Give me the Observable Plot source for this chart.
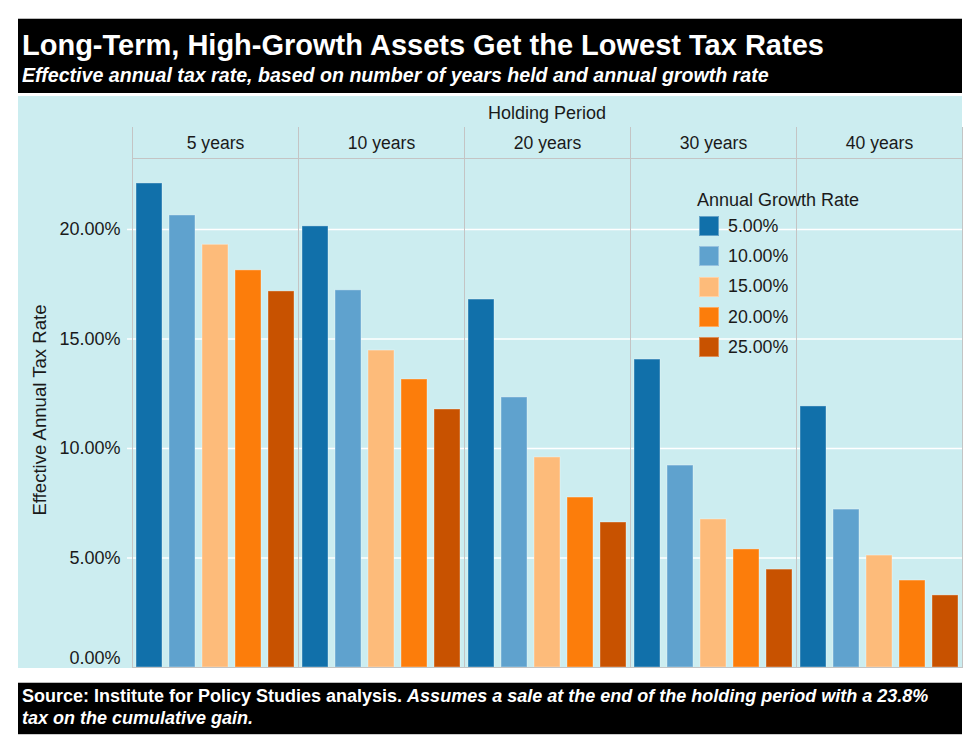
<!DOCTYPE html>
<html>
<head>
<meta charset="utf-8">
<script src="https://cdn.jsdelivr.net/npm/d3@7"></script>
<script src="https://cdn.jsdelivr.net/npm/@observablehq/plot@0.6"></script>
<style>
  html, body { margin: 0; padding: 0; background: #ffffff; }
  body { width: 980px; height: 753px; position: relative; overflow: hidden; font-family: "Liberation Sans", Arial, sans-serif; }
  #header { position: absolute; left: 18px; top: 18px; width: 944px; height: 75px; background: #000; border-top: 1px solid #bbb; box-sizing: border-box; }
  #title { position: absolute; left: 4px; top: 10px; font-size: 29px; line-height: 32px; font-weight: bold; color: #fff; white-space: nowrap; }
  #subtitle { position: absolute; left: 4px; top: 45px; font-size: 19.6px; line-height: 22px; font-weight: bold; font-style: italic; color: #fff; white-space: nowrap; }
  #panel { position: absolute; left: 18px; top: 96px; width: 944px; height: 572px; background: #ccedf0; }
  #chart { position: absolute; left: 0; top: 0; }
  #fxlabel { position: absolute; left: 114px; width: 830px; top: 6px; text-align: center; font-size: 18px; line-height: 22px; color: #1a1a1a; }
  #ylabel { position: absolute; left: 22px; top: 314px; width: 0; height: 0; }
  #ylabel span { position: absolute; transform: translate(-50%, -50%) rotate(-90deg); white-space: nowrap; font-size: 18.6px; color: #1a1a1a; }
  #legend { position: absolute; left: 679px; top: 93px; color: #1a1a1a; }
  #legend .ttl { font-size: 18px; line-height: 22px; margin-left: 0px; }
  #legend .row { display: flex; align-items: center; height: 30.3px; margin-left: 2px; }
  #legend .sw { width: 20px; height: 20px; box-sizing: border-box; border: 1px solid rgba(255,255,255,0.35); }
  #legend .lb { margin-left: 9px; font-size: 17.8px; }
  #footer { position: absolute; left: 18px; top: 682px; width: 944px; height: 53px; background: #000; border-top: 1px solid #bbb; border-bottom: 1px solid #ccc; box-sizing: border-box; color: #fff; font-weight: bold; font-size: 18px; line-height: 22px; padding: 2px 0 0 4px; white-space: nowrap; }
</style>
</head>
<body>
<div id="header">
  <div id="title">Long-Term, High-Growth Assets Get the Lowest Tax Rates</div>
  <div id="subtitle">Effective annual tax rate, based on number of years held and annual growth rate</div>
</div>
<div id="panel">
  <div id="chart"></div>
  <div id="fxlabel">Holding Period</div>
  <div id="ylabel"><span>Effective Annual Tax Rate</span></div>
  <div id="legend"></div>
</div>
<div id="footer">Source: Institute for Policy Studies analysis. <i>Assumes a sale at the end of the holding period with a 23.8%<br>tax on the cumulative gain.</i></div>
<script>
// ---- data ----
const periods = ["5 years", "10 years", "20 years", "30 years", "40 years"];
const rates = ["5.00%", "10.00%", "15.00%", "20.00%", "25.00%"];
const colors = ["#1170aa", "#5fa2ce", "#fdbb7a", "#fc7d0b", "#c85200"];
const growth5 = [0.2210, 0.2014, 0.1680, 0.1406, 0.1192];
const growth10 = [0.2064, 0.1722, 0.1233, 0.0922, 0.0721];
const growth15 = [0.1930, 0.1447, 0.0959, 0.0676, 0.0511];
const growth20 = [0.1813, 0.1315, 0.0776, 0.0539, 0.0397];
const growth25 = [0.1717, 0.1178, 0.0662, 0.0447, 0.0329];
const yTicks = [0.05, 0.10, 0.15, 0.20];
const yZeroTick = [0];
const legendTitle = "Annual Growth Rate";

const series = [growth5, growth10, growth15, growth20, growth25];
const data = [];
periods.forEach((p, i) => {
  rates.forEach((r, j) => {
    data.push({period: p, rate: r, value: series[j][i]});
  });
});

const fmt = d3.format(".2%");
const chart = Plot.plot({
  width: 944,
  height: 572,
  marginTop: 62,
  marginLeft: 114,
  marginRight: 0,
  marginBottom: 1,
  style: {background: "transparent", fontFamily: "Liberation Sans, Arial, sans-serif", color: "#1a1a1a", overflow: "visible"},
  fx: {domain: periods, padding: 0, axis: null},
  x: {domain: rates, paddingInner: 0.21, paddingOuter: 0.12, axis: null},
  y: {domain: [0, 0.2324], axis: null},
  color: {domain: rates, range: colors},
  marks: [
    Plot.gridY(yTicks, {stroke: "#ffffff", strokeOpacity: 1, strokeWidth: 1.5}),
    Plot.axisY(yTicks, {tickFormat: fmt, tickSize: 5, tickPadding: 7, stroke: "#ffffff", strokeWidth: 1.5, fontSize: 18, fill: "#1a1a1a", label: null}),
    Plot.axisY(yZeroTick, {tickFormat: fmt, tickSize: 0, tickPadding: 12, dy: -9, fontSize: 18, fill: "#1a1a1a", label: null}),
    Plot.barY(data, {fx: "period", x: "rate", y: "value", fill: "rate", stroke: "#ffffff", strokeOpacity: 0.35, strokeWidth: 1}),
    Plot.frame({anchor: "left", stroke: "#c4c4c4", insetTop: -31}),
    Plot.frame({anchor: "right", stroke: "#c4c4c4", insetTop: -31}),
    Plot.frame({anchor: "top", stroke: "#c4c4c4"}),
    Plot.frame({anchor: "bottom", stroke: "#c4c4c4"}),
    Plot.text(periods, {fx: d => d, text: d => d, frameAnchor: "top", dy: -15, fontSize: 17.6, fill: "#1a1a1a", lineAnchor: "middle"})
  ]
});
document.getElementById("chart").appendChild(chart);

const legend = document.getElementById("legend");
const t = document.createElement("div");
t.className = "ttl";
t.textContent = legendTitle;
legend.appendChild(t);
rates.forEach((r, i) => {
  const row = document.createElement("div");
  row.className = "row";
  const sw = document.createElement("div");
  sw.className = "sw";
  sw.style.background = colors[i];
  const lb = document.createElement("div");
  lb.className = "lb";
  lb.textContent = r;
  row.appendChild(sw);
  row.appendChild(lb);
  legend.appendChild(row);
});
</script>
</body>
</html>
